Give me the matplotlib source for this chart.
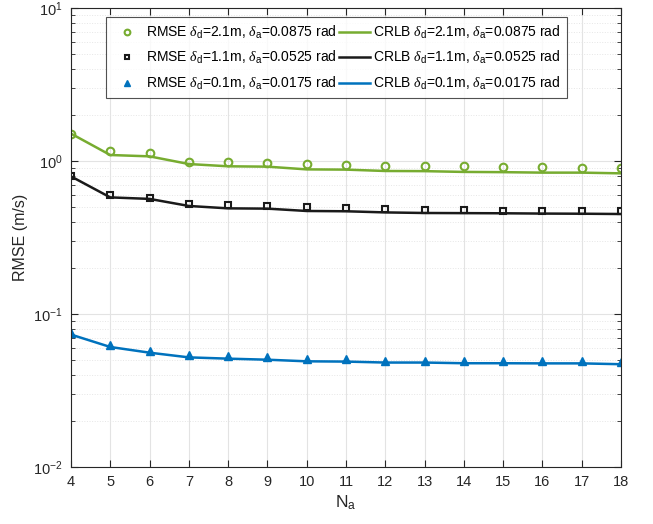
import matplotlib
matplotlib.use("Agg")
import matplotlib.pyplot as plt
from matplotlib.ticker import LogLocator, NullFormatter

plt.rcParams['font.family'] = ['Liberation Sans', 'DejaVu Sans']
plt.rcParams['mathtext.fontset'] = 'custom'
plt.rcParams['mathtext.rm'] = 'Liberation Sans'
plt.rcParams['mathtext.it'] = 'Liberation Serif:italic'

n_a = [4, 5, 6, 7, 8, 9, 10, 11, 12, 13, 14, 15, 16, 17, 18]

rmse_21 = [1.51, 1.156, 1.127, 0.989, 0.99, 0.975, 0.955, 0.94, 0.932, 0.932, 0.923, 0.908, 0.908, 0.895, 0.90]
crlb_21 = [1.51, 1.094, 1.072, 0.955, 0.923, 0.918, 0.881, 0.878, 0.86, 0.858, 0.848, 0.845, 0.839, 0.839, 0.83]

rmse_11 = [0.793, 0.600, 0.575, 0.526, 0.513, 0.505, 0.497, 0.490, 0.485, 0.476, 0.481, 0.471, 0.471, 0.471, 0.471]
crlb_11 = [0.793, 0.578, 0.565, 0.508, 0.490, 0.488, 0.471, 0.469, 0.461, 0.457, 0.456, 0.455, 0.453, 0.452, 0.450]

rmse_01 = [0.0752, 0.0627, 0.057, 0.054, 0.0528, 0.052, 0.0508, 0.0508, 0.0495, 0.0495, 0.049, 0.0495, 0.0495, 0.0493, 0.0488]
crlb_01 = [0.0733, 0.0608, 0.0558, 0.052, 0.051, 0.0502, 0.049, 0.0488, 0.0481, 0.0481, 0.0476, 0.0476, 0.0475, 0.0475, 0.0469]

green = '#77AC30'
black = '#1a1a1a'
blue = '#0072BD'

fig = plt.figure(figsize=(6.53, 5.24), dpi=100)
ax = fig.add_axes([0.1087, 0.109, 0.8423, 0.8757])

h1, = ax.plot(n_a, rmse_21, 'o', mfc='none', mec=green, mew=1.5, ms=5.5, ls='none',
              label=r'RMSE $\delta_{\mathrm{d}}$=2.1m, $\delta_{\mathrm{a}}$=0.0875 rad')
h2, = ax.plot(n_a, rmse_11, 's', mfc='none', mec=black, mew=1.5, ms=4.5, ls='none',
              label=r'RMSE $\delta_{\mathrm{d}}$=1.1m, $\delta_{\mathrm{a}}$=0.0525 rad')
h3, = ax.plot(n_a, rmse_01, '^', mfc=blue, mec=blue, ms=6, ls='none',
              label=r'RMSE $\delta_{\mathrm{d}}$=0.1m, $\delta_{\mathrm{a}}$=0.0175 rad')
h4, = ax.plot(n_a, crlb_21, '-', color=green, lw=1.8,
              label=r'CRLB $\delta_{\mathrm{d}}$=2.1m, $\delta_{\mathrm{a}}$=0.0875 rad')
h5, = ax.plot(n_a, crlb_11, '-', color=black, lw=1.8,
              label=r'CRLB $\delta_{\mathrm{d}}$=1.1m, $\delta_{\mathrm{a}}$=0.0525 rad')
h6, = ax.plot(n_a, crlb_01, '-', color=blue, lw=1.8,
              label=r'CRLB $\delta_{\mathrm{d}}$=0.1m, $\delta_{\mathrm{a}}$=0.0175 rad')

ax.set_yscale('log')
ax.set_xlim(4, 18)
ax.set_ylim(1e-2, 1e1)
ax.set_xticks(n_a)
ax.yaxis.set_major_locator(LogLocator(base=10, numticks=10))
ax.yaxis.set_minor_locator(LogLocator(base=10, subs=range(2, 10), numticks=20))
ax.yaxis.set_minor_formatter(NullFormatter())

ax.grid(True, which='major', color='#e3e3e3', lw=0.8, ls='-')
ax.grid(True, which='minor', axis='y', color='#e6e6e6', lw=0.7, ls=':')
ax.set_axisbelow(True)

ax.tick_params(which='both', direction='in', top=True, right=True, colors='#262626',
               labelcolor='#262626', labelsize=10.5)
ax.tick_params(which='major', length=5, pad=6)
ax.tick_params(which='minor', length=3)
for s in ax.spines.values():
    s.set_color('#262626')
    s.set_linewidth(0.8)

ax.set_xlabel(r'N$_{\mathrm{a}}$', fontsize=12.5, color='#262626', labelpad=3)
ax.set_ylabel('RMSE (m/s)', fontsize=11.5, color='#262626', labelpad=4)

leg = ax.legend(handles=[h1, h2, h3, h4, h5, h6], ncol=2, loc='upper left',
                bbox_to_anchor=(0.0636, 0.980), borderaxespad=0, fontsize=10,
                frameon=True, fancybox=False, edgecolor='#262626',
                handlelength=2.2, columnspacing=0.15, handletextpad=0.25,
                borderpad=0.45, labelspacing=0.62, markerscale=0.75)
leg.get_frame().set_linewidth(0.8)

fig.savefig('out.png', dpi=100)
